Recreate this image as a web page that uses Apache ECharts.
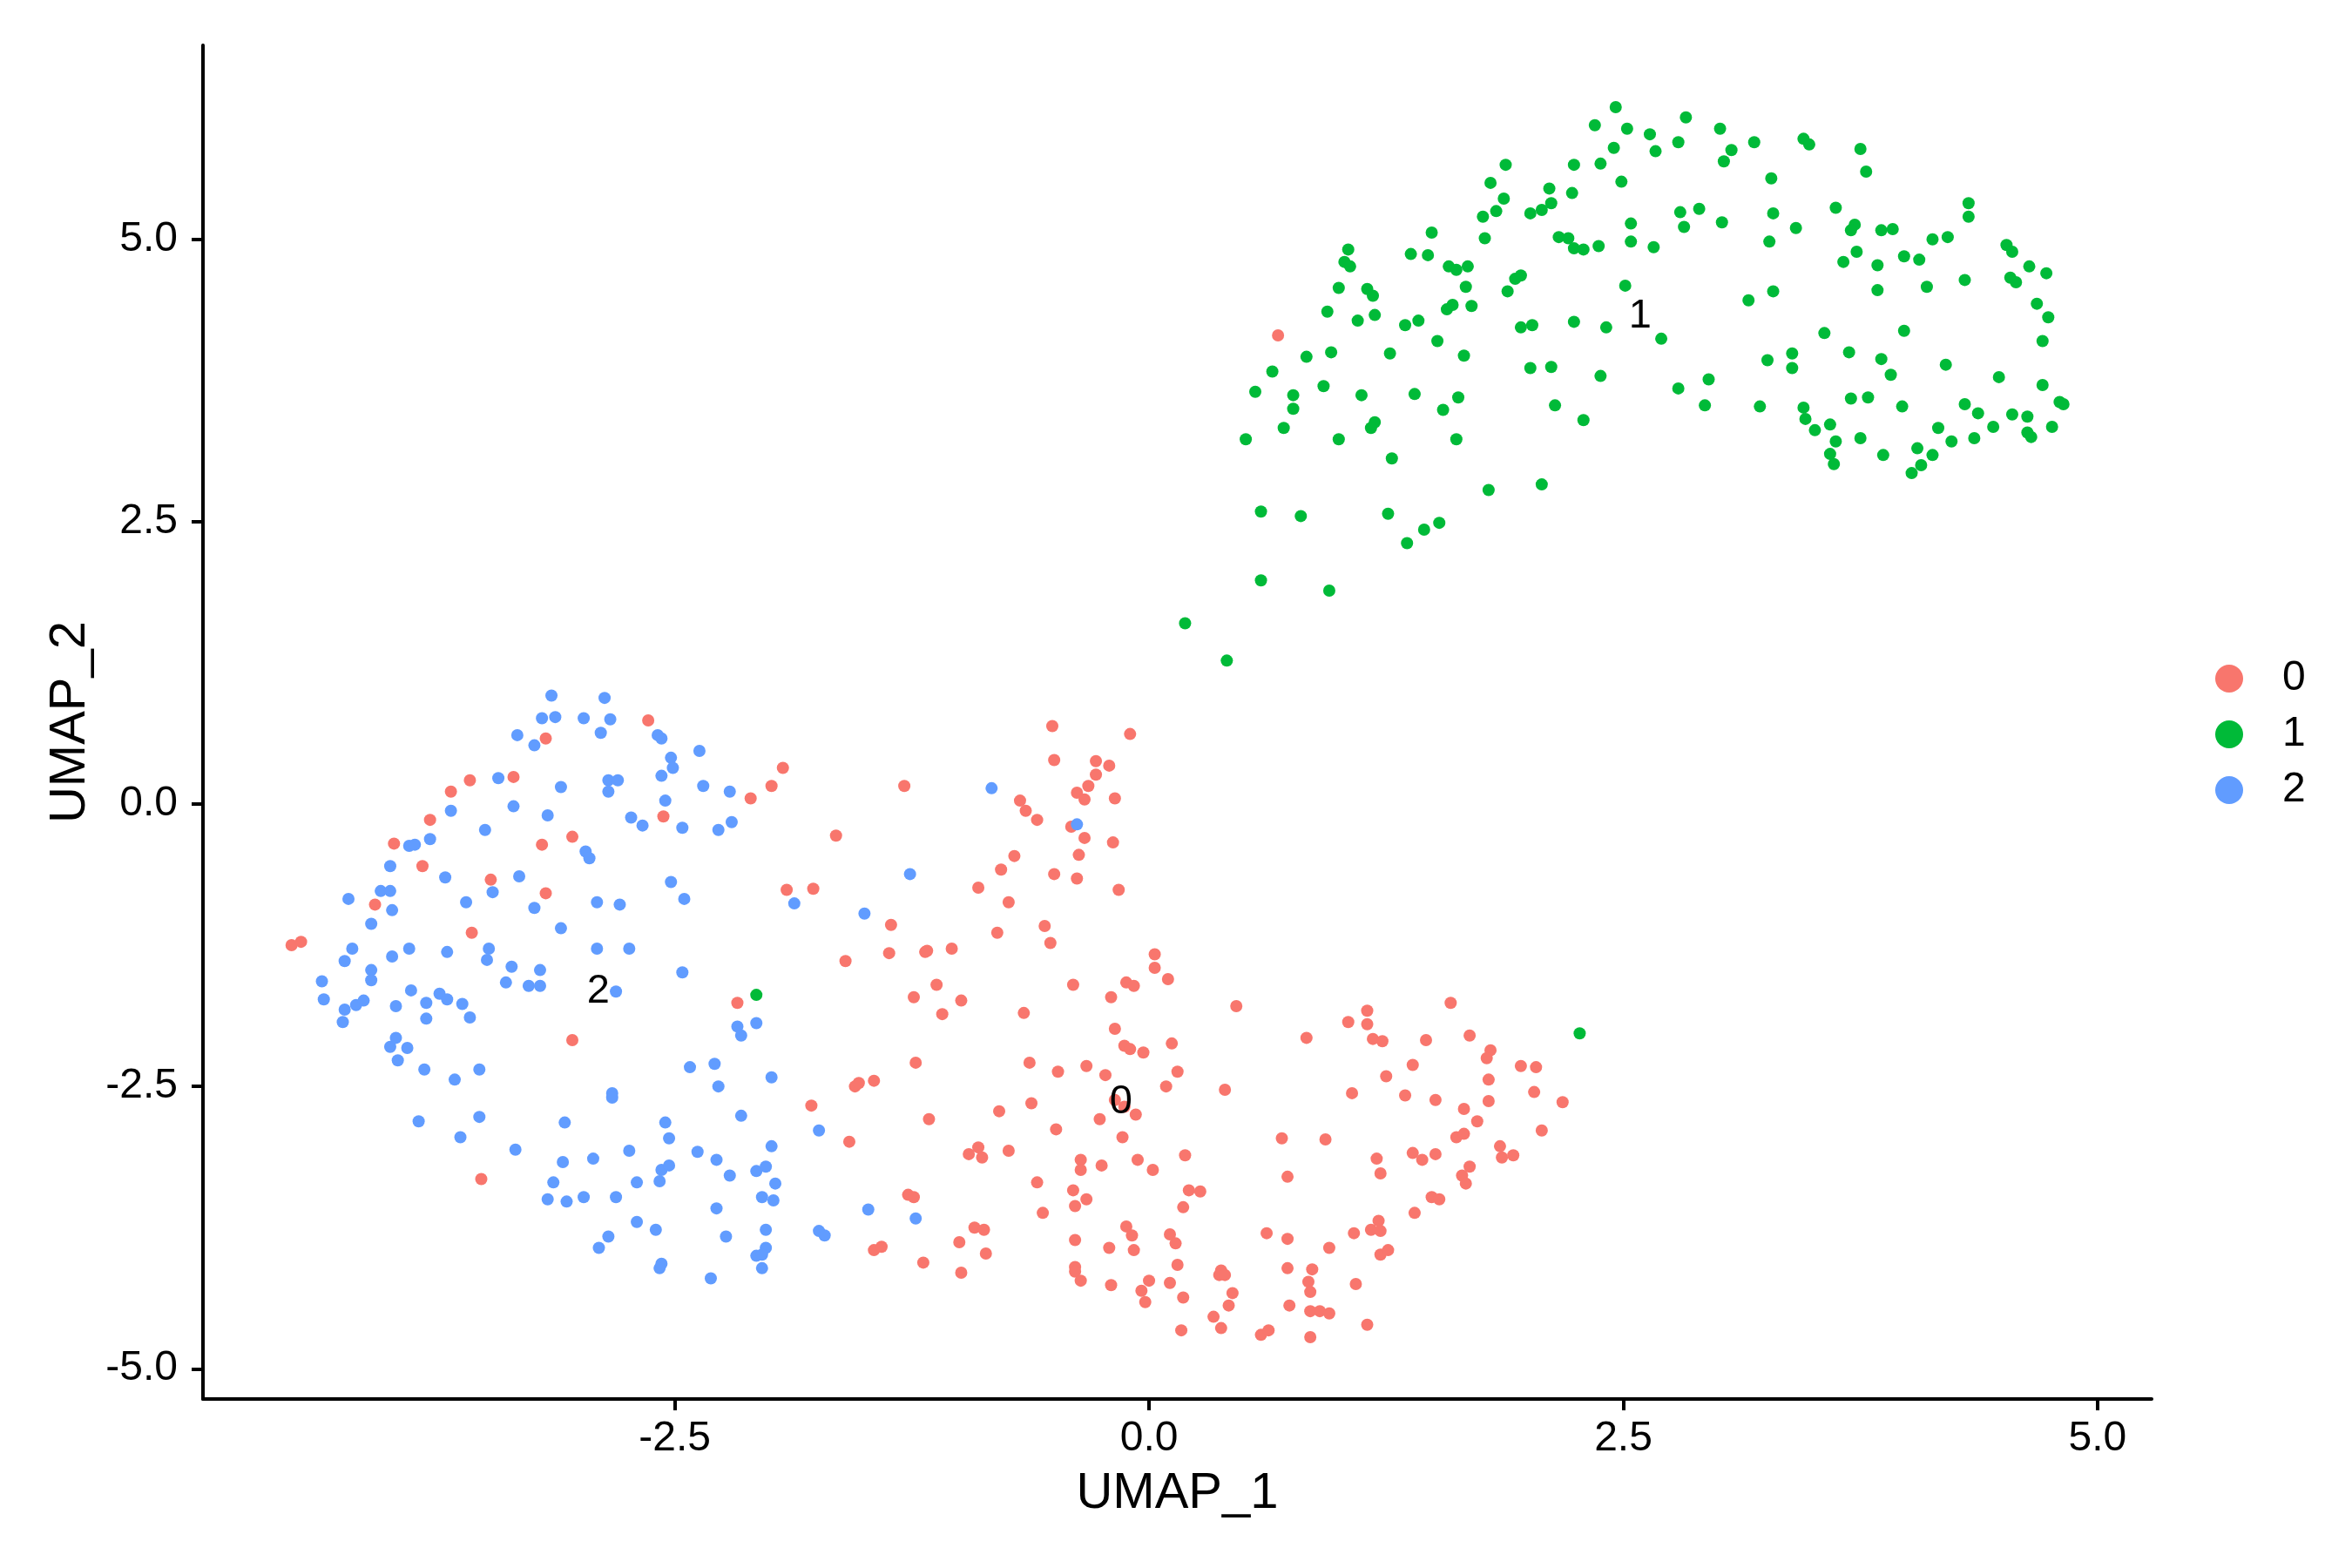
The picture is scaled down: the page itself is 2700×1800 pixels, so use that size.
<!DOCTYPE html>
<html>
<head>
<meta charset="utf-8">
<script src="https://cdn.jsdelivr.net/npm/echarts@6/dist/echarts.min.js"></script>
<style>html,body{margin:0;padding:0;background:#fff}#chart{width:2700px;height:1800px}</style>
</head>
<body>
<div id="chart"></div>
<script>
const clusterNames = ['0', '1', '2'];
const clusterColors = ['#F8766D', '#00BA38', '#619CFF'];
const xTickValues = [-2.5, 0, 2.5, 5];
const yTickValues = [-5, -2.5, 0, 2.5, 5];
const xLimits = [-4.987, 5.285];
const yLimits = [-5.268, 6.718];

const cluster0 = [
[0.68,4.15],
[-2.64,0.74],[-3.18,0.58],[-3.35,0.24],[-3.58,0.21],[-3.68,0.11],[-3.79,-0.14],[-3.98,-0.35],[-3.83,-0.55],[-3.20,-0.36],[-3.04,-0.29],[-2.56,-0.11],[-3.47,-0.67],[-3.18,-0.79],[-4.08,-0.89],[-3.57,-1.14],[-4.52,-1.25],[-4.47,-1.22],
[-1.93,0.32],[-1.99,0.16],[-2.10,0.05],[-1.29,0.16],[-1.65,-0.28],[-0.51,0.69],[-0.10,0.62],[-0.50,0.39],[-0.28,0.38],[-0.21,0.34],[-0.28,0.26],[-0.32,0.16],[-0.38,0.10],[-0.34,0.04],[-0.18,0.05],[-0.68,0.03],[-0.65,-0.06],[-0.59,-0.14],[-0.41,-0.20],[-0.34,-0.30],[-0.19,-0.34],[-0.37,-0.45],[-0.71,-0.46],[-0.78,-0.58],[-0.50,-0.62],[-0.38,-0.66],[-0.16,-0.76],[-0.90,-0.74],[-0.74,-0.87],[-1.91,-0.76],[-1.77,-0.75],[-1.36,-1.07],[-0.55,-1.08],[-0.52,-1.23],[-0.80,-1.14],[-1.37,-1.32],[-1.18,-1.31],[-1.17,-1.30],[-1.04,-1.28],[-1.60,-1.39],[-1.12,-1.60],[-0.40,-1.60],[-0.12,-1.58],[-0.08,-1.61],[0.03,-1.33],[0.03,-1.45],[0.10,-1.55],
[-3.52,-3.32],[-3.04,-2.09],
[-2.17,-1.76],[-1.24,-1.71],[-0.99,-1.74],[-0.20,-1.71],[-1.09,-1.86],[-0.66,-1.85],[-0.18,-1.99],[-0.13,-2.14],[-0.10,-2.17],[-0.03,-2.20],[-1.23,-2.29],[-0.63,-2.29],[-0.48,-2.37],[-0.33,-2.32],[-0.23,-2.40],[-1.55,-2.50],[-1.53,-2.47],[-1.45,-2.45],[-1.78,-2.67],[-1.16,-2.79],[-0.79,-2.72],[-0.62,-2.65],[-0.49,-2.88],[-0.26,-2.79],[-0.18,-2.62],[-0.13,-2.68],[-0.07,-2.75],[-0.14,-2.95],[-1.58,-2.99],[-0.90,-3.04],[-0.95,-3.10],[-0.88,-3.13],[-0.74,-3.07],[-0.36,-3.15],[-0.36,-3.24],[-0.25,-3.20],[-0.06,-3.15],[0.02,-3.24],[-0.59,-3.35],[-0.40,-3.42],[-0.33,-3.50],[-0.39,-3.56],[-0.56,-3.62],[-1.27,-3.46],[-1.24,-3.48],[-0.92,-3.75],[-0.87,-3.77],[-1.00,-3.88],[-0.86,-3.98],[-1.19,-4.06],[-0.99,-4.15],[-1.45,-3.95],[-1.41,-3.92],[-0.12,-3.74],[-0.09,-3.82],[-0.39,-3.86],[-0.21,-3.93],[-0.08,-3.95],[-0.39,-4.10],[-0.39,-4.14],[-0.36,-4.22],[-0.20,-4.26],[0.00,-4.22],[-0.04,-4.31],[-0.02,-4.41],
[0.46,-1.79],[1.59,-1.76],[1.15,-1.83],[1.05,-1.93],[1.15,-1.95],[0.83,-2.07],[1.18,-2.08],[1.23,-2.10],[1.46,-2.09],[1.69,-2.05],[1.80,-2.18],[1.78,-2.25],[0.12,-2.12],[0.15,-2.37],[0.09,-2.50],[0.40,-2.53],[1.39,-2.31],[1.25,-2.41],[1.07,-2.56],[1.35,-2.58],[1.51,-2.62],[1.79,-2.44],[1.79,-2.63],[1.66,-2.70],[1.73,-2.81],[1.96,-2.32],[2.04,-2.33],[2.03,-2.55],[2.18,-2.64],[2.07,-2.89],[1.62,-2.95],[1.66,-2.92],[1.85,-3.03],[1.86,-3.13],[1.92,-3.11],[0.70,-2.96],[0.93,-2.97],[0.19,-3.11],[1.20,-3.14],[1.22,-3.27],[1.39,-3.09],[1.44,-3.15],[1.51,-3.10],[1.69,-3.21],[1.65,-3.29],[1.67,-3.36],[1.49,-3.48],[1.53,-3.50],[1.40,-3.62],[0.73,-3.30],[0.21,-3.42],[0.27,-3.43],[0.18,-3.57],[0.11,-3.81],[0.14,-3.89],[0.15,-4.08],[0.11,-4.24],[0.18,-4.37],[0.17,-4.66],[0.38,-4.13],[0.37,-4.17],[0.40,-4.17],[0.44,-4.33],[0.42,-4.44],[0.34,-4.54],[0.38,-4.64],[0.59,-4.70],[0.63,-4.66],[0.85,-4.72],[0.62,-3.80],[0.73,-3.85],[0.95,-3.93],[1.08,-3.80],[1.17,-3.77],[1.21,-3.69],[1.22,-3.78],[1.22,-3.99],[1.26,-3.95],[0.73,-4.11],[0.86,-4.12],[0.84,-4.23],[0.85,-4.32],[1.09,-4.25],[0.74,-4.44],[0.85,-4.49],[0.90,-4.49],[0.95,-4.51],[1.15,-4.61]
];

const cluster1 = [
[2.35,6.01],[1.88,5.66],[2.24,5.66],[2.38,5.67],[1.80,5.50],[1.87,5.36],[2.11,5.45],[2.23,5.41],[2.12,5.32],[2.07,5.26],[2.01,5.23],[1.83,5.25],[1.76,5.20],[1.77,5.01],[1.49,5.06],[2.16,5.02],[2.21,5.01],[2.24,4.92],[2.29,4.91],[2.37,4.94],[1.05,4.91],[1.03,4.80],[1.06,4.76],[1.38,4.87],[1.47,4.86],[1.58,4.76],[1.62,4.73],[1.68,4.76],[1.93,4.65],[1.96,4.68],[1.89,4.54],[1.67,4.58],[1.00,4.57],[1.15,4.56],[1.18,4.50],[0.94,4.36],[1.10,4.28],[1.19,4.33],[1.57,4.38],[1.60,4.42],[1.70,4.41],[1.35,4.24],[1.42,4.28],[1.96,4.22],[2.02,4.24],[2.24,4.27],[2.41,4.22],[1.52,4.10],[0.83,3.96],[0.96,4.00],[1.27,3.99],[1.66,3.97],[0.65,3.83],[2.01,3.86],[2.12,3.87],[2.38,3.79],[0.56,3.65],[0.76,3.62],[0.92,3.70],[1.12,3.62],[1.40,3.63],[1.63,3.60],[1.55,3.49],[0.76,3.50],[2.14,3.53],[2.29,3.40],[1.19,3.38],[1.17,3.33],[0.71,3.33],[0.51,3.23],[1.00,3.23],[1.62,3.23],
[2.46,6.17],[2.83,6.08],[2.52,5.98],[2.64,5.93],[2.79,5.86],[3.01,5.98],[2.45,5.81],[2.67,5.78],[3.07,5.79],[3.03,5.69],[3.19,5.86],[3.45,5.89],[3.48,5.84],[3.75,5.80],[3.78,5.60],[3.28,5.54],[2.49,5.51],[3.62,5.28],[4.32,5.32],[4.32,5.20],[2.54,5.14],[2.80,5.24],[2.90,5.27],[2.82,5.11],[3.02,5.15],[3.29,5.23],[3.41,5.10],[2.54,4.98],[2.66,4.93],[3.27,4.98],[3.72,5.13],[3.70,5.08],[3.86,5.08],[3.92,5.09],[3.73,4.89],[3.66,4.80],[3.84,4.77],[3.98,4.85],[4.06,4.82],[4.13,5.00],[4.21,5.02],[4.52,4.95],[4.55,4.89],[4.64,4.76],[4.73,4.70],[4.54,4.66],[4.57,4.62],[4.30,4.64],[4.10,4.58],[3.84,4.55],[2.51,4.59],[3.29,4.54],[3.16,4.46],[4.68,4.43],[4.74,4.31],[4.71,4.10],[2.70,4.12],[3.56,4.17],[3.98,4.19],[3.26,3.93],[3.39,3.99],[3.39,3.86],[3.69,4.00],[3.86,3.94],[3.91,3.80],[4.20,3.89],[4.48,3.78],[4.71,3.71],[2.79,3.68],[2.95,3.76],[2.93,3.53],[3.22,3.52],[3.45,3.51],[3.46,3.41],[3.51,3.31],[3.59,3.36],[3.70,3.59],[3.79,3.60],[3.97,3.52],[4.30,3.54],[4.37,3.46],[4.16,3.33],[4.45,3.34],[4.55,3.45],[4.63,3.43],[4.80,3.56],[4.82,3.54],[4.76,3.34],[4.63,3.29],[4.65,3.25],[3.62,3.21],[3.75,3.24],[4.23,3.21],[4.35,3.24],
[4.05,3.15],[3.87,3.09],[3.59,3.10],[3.61,3.01],[4.07,3.00],[4.02,2.93],[4.13,3.09],[1.28,3.06],[1.79,2.78],[2.07,2.83],[0.59,2.59],[0.80,2.55],[1.26,2.57],[1.53,2.49],[1.45,2.43],[1.36,2.31],[0.59,1.98],[0.95,1.89],[0.19,1.60],[0.41,1.27],[-2.07,-1.69],[2.27,-2.03]
];

const cluster2 = [
[-3.15,0.96],[-2.87,0.94],[-3.20,0.76],[-3.13,0.77],[-2.98,0.76],[-2.84,0.75],[-2.89,0.63],[-3.33,0.61],[-3.24,0.52],[-2.59,0.61],[-2.57,0.58],[-2.37,0.47],[-2.52,0.41],[-2.51,0.32],[-2.57,0.25],[-2.35,0.16],[-2.85,0.21],[-2.80,0.21],[-2.85,0.11],[-3.10,0.15],[-3.43,0.23],[-3.35,-0.02],[-3.17,-0.10],[-2.55,0.03],[-2.73,-0.12],[-2.67,-0.19],[-2.46,-0.21],[-3.68,-0.06],[-3.50,-0.23],[-3.79,-0.31],[-3.90,-0.37],[-3.87,-0.36],[-4.00,-0.55],[-3.71,-0.65],[-3.32,-0.64],[-2.97,-0.42],[-2.95,-0.48],[-2.52,-0.69],[-2.45,-0.84],[-4.05,-0.77],[-4.00,-0.77],[-4.22,-0.84],[-3.99,-0.94],[-4.10,-1.06],[-3.60,-0.87],[-3.46,-0.78],[-3.24,-0.92],[-2.91,-0.87],[-2.79,-0.89],[-3.10,-1.10],[-4.20,-1.28],[-4.24,-1.39],[-3.99,-1.35],[-3.90,-1.28],[-3.70,-1.31],[-3.48,-1.28],[-3.49,-1.38],[-3.36,-1.44],[-3.39,-1.58],[-3.21,-1.47],[-3.27,-1.61],[-3.21,-1.61],[-2.91,-1.28],[-2.74,-1.28],[-2.46,-1.49],[-2.81,-1.66],[-4.10,-1.47],[-4.10,-1.56],[-4.36,-1.57],[-3.89,-1.65],[-3.74,-1.68],
[-2.21,0.11],[-2.27,-0.23],[-2.20,-0.16],[-0.83,0.14],[-0.38,-0.18],[-1.26,-0.62],[-1.87,-0.88],[-1.50,-0.97],
[-4.35,-1.73],[-4.24,-1.82],[-4.18,-1.78],[-4.14,-1.74],[-4.25,-1.93],[-3.97,-1.79],[-3.81,-1.76],[-3.70,-1.73],[-3.62,-1.77],[-3.81,-1.90],[-3.58,-1.89],[-3.97,-2.07],[-4.00,-2.15],[-3.91,-2.16],[-3.96,-2.27],[-3.82,-2.35],[-3.66,-2.44],[-3.53,-2.35],[-3.85,-2.81],[-3.53,-2.77],[-3.63,-2.95],[-3.34,-3.06],[-2.83,-2.56],[-2.83,-2.60],[-3.08,-2.82],[-3.09,-3.17],[-2.93,-3.14],[-2.74,-3.07],[-3.14,-3.35],[-3.17,-3.50],[-3.07,-3.52],[-2.98,-3.48],[-2.81,-3.48],[-2.70,-3.35],[-2.55,-2.82],[-2.53,-2.96],[-2.57,-3.24],[-2.53,-3.20],[-2.58,-3.34],[-2.42,-2.33],[-2.38,-3.08],[-2.70,-3.70],[-2.60,-3.77],[-2.85,-3.83],[-2.90,-3.93],[-2.57,-4.07],[-2.58,-4.11],[-2.31,-4.20],
[-2.17,-1.97],[-2.15,-2.05],[-2.07,-1.94],[-2.29,-2.30],[-2.27,-2.50],[-1.99,-2.42],[-2.15,-2.76],[-1.74,-2.89],[-1.99,-3.03],[-2.28,-3.15],[-2.21,-3.29],[-2.07,-3.25],[-2.02,-3.21],[-1.97,-3.36],[-2.04,-3.48],[-1.98,-3.51],[-2.28,-3.58],[-2.02,-3.77],[-2.23,-3.83],[-2.02,-3.93],[-2.07,-4.00],[-2.04,-3.99],[-2.04,-4.11],[-1.74,-3.78],[-1.71,-3.82],[-1.48,-3.59],[-1.23,-3.67]
];

const clusterLabelPos = [[-0.148, -2.639], [2.589, 4.321], [-2.903, -1.659]];

const FONT = '"Liberation Sans", Arial, Helvetica, sans-serif';
const clusters = [cluster0, cluster1, cluster2];

const chart = echarts.init(document.getElementById('chart'), null, {renderer: 'canvas'});

const pointSeries = clusters.map((pts, i) => ({
  name: clusterNames[i],
  type: 'scatter',
  data: pts,
  symbol: 'circle',
  symbolSize: 14,
  itemStyle: {color: clusterColors[i], opacity: 1},
  emphasis: {disabled: true},
  z: 2
}));

const labelSeries = {
  name: 'clusterLabels',
  type: 'scatter',
  data: clusterLabelPos.map((p, i) => [p[0], p[1], clusterNames[i]]),
  symbolSize: 2,
  itemStyle: {color: 'rgba(0,0,0,0)', opacity: 1},
  silent: true,
  z: 5,
  label: {
    show: true,
    position: 'inside',
    formatter: p => p.data[2],
    fontSize: 47,
    color: '#000',
    opacity: 1,
    fontFamily: FONT
  }
};

function makeAxis(limits, name, gap, ticks, margin) {
  return {
    type: 'value',
    min: limits[0],
    max: limits[1],
    splitLine: {show: false},
    axisLine: {show: true, onZero: false, lineStyle: {color: '#000', width: 4}},
    axisTick: {show: true, customValues: ticks, length: 13, lineStyle: {color: '#000', width: 4}},
    axisLabel: {customValues: ticks, fontSize: 48, color: '#000', fontFamily: FONT, margin: margin,
      formatter: v => Number(v).toFixed(1)},
    name: name,
    nameLocation: 'middle',
    nameGap: gap,
    nameTextStyle: {fontSize: 58, color: '#000', fontFamily: FONT}
  };
}

chart.setOption({
  animation: false,
  backgroundColor: '#fff',
  grid: {left: 233, top: 52, width: 2237, height: 1554, containLabel: false},
  xAxis: makeAxis(xLimits, 'UMAP_1', 80, xTickValues, 22),
  yAxis: makeAxis(yLimits, 'UMAP_2', 122, yTickValues, 29),
  legend: {
    data: clusterNames,
    orient: 'vertical',
    left: 2543,
    top: 755,
    padding: 0,
    icon: 'circle',
    itemWidth: 32,
    itemHeight: 32,
    itemGap: 16,
    selectedMode: false,
    textStyle: {fontSize: 48, lineHeight: 48, color: '#000', fontFamily: FONT, padding: [0, 0, 0, 40]}
  },
  series: pointSeries.concat([labelSeries])
});
</script>
</body>
</html>
